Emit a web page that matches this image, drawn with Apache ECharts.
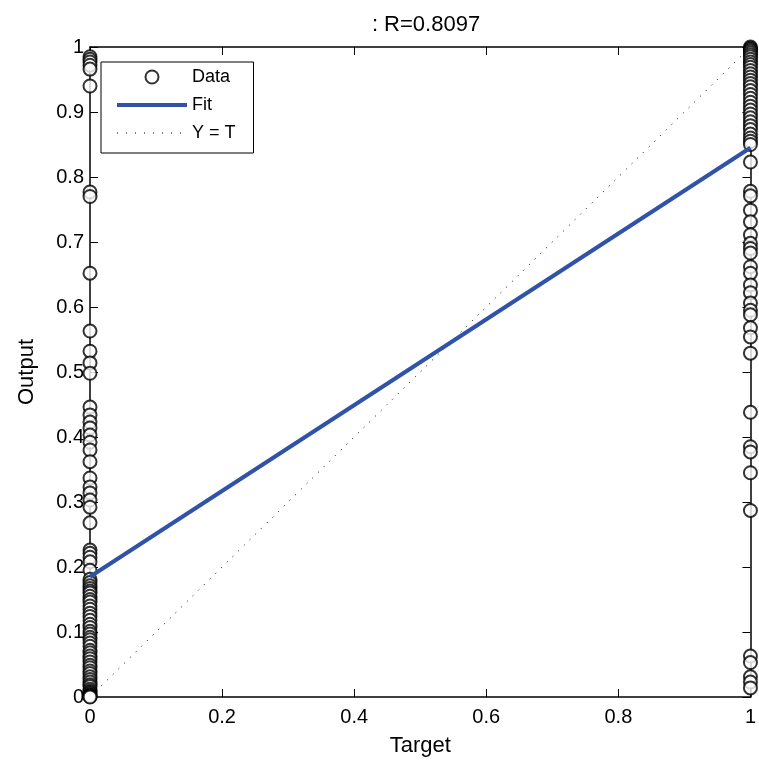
<!DOCTYPE html>
<html><head><meta charset="utf-8">
<script src="https://cdn.jsdelivr.net/npm/echarts@6/dist/echarts.min.js"></script>
<style>html,body{margin:0;padding:0;background:#fff}#c{width:759px;height:762px}</style>
</head><body><div id="c"></div>
<script>
var titleText = ': R=0.8097';
var xTicks = [0, 0.2, 0.4, 0.6, 0.8, 1];
// Output values where Target = 0
var outputsT0 = [0.985, 0.981, 0.977, 0.972, 0.966, 0.94, 0.777, 0.770, 0.652, 0.563, 0.532, 0.514, 0.498,
  0.446, 0.434, 0.423, 0.414, 0.403, 0.392, 0.38, 0.362, 0.337, 0.323, 0.314, 0.303, 0.292, 0.268,
  0.226, 0.221, 0.215, 0.208, 0.195, 0.181, 0.176, 0.171, 0.167, 0.163, 0.16, 0.155, 0.15, 0.146,
  0.14, 0.135, 0.129, 0.124, 0.118, 0.112, 0.107, 0.101, 0.097, 0.092, 0.088, 0.083, 0.078, 0.072,
  0.068, 0.063, 0.059, 0.054, 0.049, 0.045, 0.04, 0.036, 0.031, 0.027, 0.023, 0.019, 0.016, 0.012,
  0.009, 0.007, 0.005, 0.003, 0.002, 0.001, 0.0];
// Output values where Target = 1
var outputsT1 = [1.0, 0.998, 0.996, 0.994, 0.991, 0.988, 0.985, 0.981, 0.977, 0.973, 0.969, 0.964, 0.959,
  0.954, 0.949, 0.944, 0.939, 0.933, 0.927, 0.921, 0.915, 0.909, 0.903, 0.897, 0.891, 0.885, 0.879,
  0.873, 0.866, 0.86, 0.855, 0.85, 0.823, 0.778, 0.771, 0.749, 0.731, 0.711, 0.698, 0.69, 0.683,
  0.662, 0.652, 0.634, 0.622, 0.606, 0.595, 0.588, 0.568, 0.554, 0.529, 0.438, 0.385, 0.377, 0.345,
  0.287, 0.063, 0.053, 0.031, 0.023, 0.014];
// Fit line endpoints (Target, Output)
var fitT = [0, 1];
var fitY = [0.185, 0.845];
// Y = T line
var identT = [0, 1];
var identY = [0, 1];

var FONT = 'Liberation Sans, Arial, sans-serif';
var dataPts = outputsT0.map(function(v){return [0, v];}).concat(outputsT1.map(function(v){return [1, v];}));
var fitPts = fitT.map(function(t, i){return [t, fitY[i]];});
var identPts = identT.map(function(t, i){return [t, identY[i]];});

function axisBase(extra) {
  var o = {
    type: 'value', min: 0, max: 1,
    axisLine: {show: true, onZero: false, lineStyle: {color: '#000', width: 1.5}},
    axisTick: {show: true, inside: true, length: 8, lineStyle: {color: '#000', width: 1}},
    splitLine: {show: false}
  };
  for (var k in extra) o[k] = extra[k];
  return o;
}
var hiddenSym = {color: 'transparent', borderColor: 'transparent', borderWidth: 0, opacity: 0};

var chart = echarts.init(document.getElementById('c'));
chart.setOption({
  animation: false,
  backgroundColor: '#fff',
  title: {text: titleText, left: 421, textAlign: 'center', top: 9,
    textStyle: {fontFamily: FONT, fontSize: 22, fontWeight: 'normal', color: '#000'}},
  grid: {left: 90, right: 6, top: 47, bottom: 65},
  legend: {
    orient: 'vertical', left: 101, top: 62,
    backgroundColor: '#fff', borderColor: '#000', borderWidth: 1,
    padding: [5, 18, 10, 14], itemWidth: 70, itemHeight: 13, itemGap: 8,
    textStyle: {fontFamily: FONT, fontSize: 18, lineHeight: 20, color: '#000'},
    data: [
      {name: 'Data', itemStyle: {borderWidth: 1.2}},
      {name: 'Fit', itemStyle: hiddenSym, lineStyle: {width: 4, color: '#3053A8'}},
      {name: 'Y = T', itemStyle: hiddenSym, lineStyle: {width: 1, color: '#000', type: [1, 8]}}
    ]
  },
  xAxis: [
    axisBase({interval: 0.2, position: 'bottom',
      name: 'Target', nameLocation: 'middle', nameGap: 38,
      nameTextStyle: {fontFamily: FONT, fontSize: 22, color: '#000'},
      axisLabel: {fontFamily: FONT, fontSize: 20, color: '#000', margin: 10,
        formatter: function(v){return String(v);}}}),
    axisBase({interval: 0.2, position: 'top', axisLabel: {show: false}})
  ],
  yAxis: [
    axisBase({interval: 0.1, position: 'left',
      name: 'Output', nameLocation: 'middle', nameGap: 52,
      nameTextStyle: {fontFamily: FONT, fontSize: 22, color: '#000'},
      axisLabel: {fontFamily: FONT, fontSize: 20, color: '#000', margin: 6,
        formatter: function(v){return String(Math.round(v*10)/10);}}}),
    axisBase({interval: 0.1, position: 'right', axisLabel: {show: false}})
  ],
  series: [
    {name: 'Y = T', type: 'line', data: identPts, symbol: 'none', silent: true,
      lineStyle: {color: '#000', width: 1, type: [1, 7]}, itemStyle: {color: '#000'}, z: 1},
    {name: 'Data', type: 'scatter', data: dataPts, symbol: 'emptyCircle', symbolSize: 13,
      clip: false, itemStyle: {color: '#000', borderColor: '#000', borderWidth: 1.2}, z: 2},
    {name: 'Fit', type: 'line', data: fitPts, symbol: 'none',
      lineStyle: {color: '#3053A8', width: 4}, itemStyle: {color: '#3053A8'}, z: 3}
  ]
});
</script></body></html>
